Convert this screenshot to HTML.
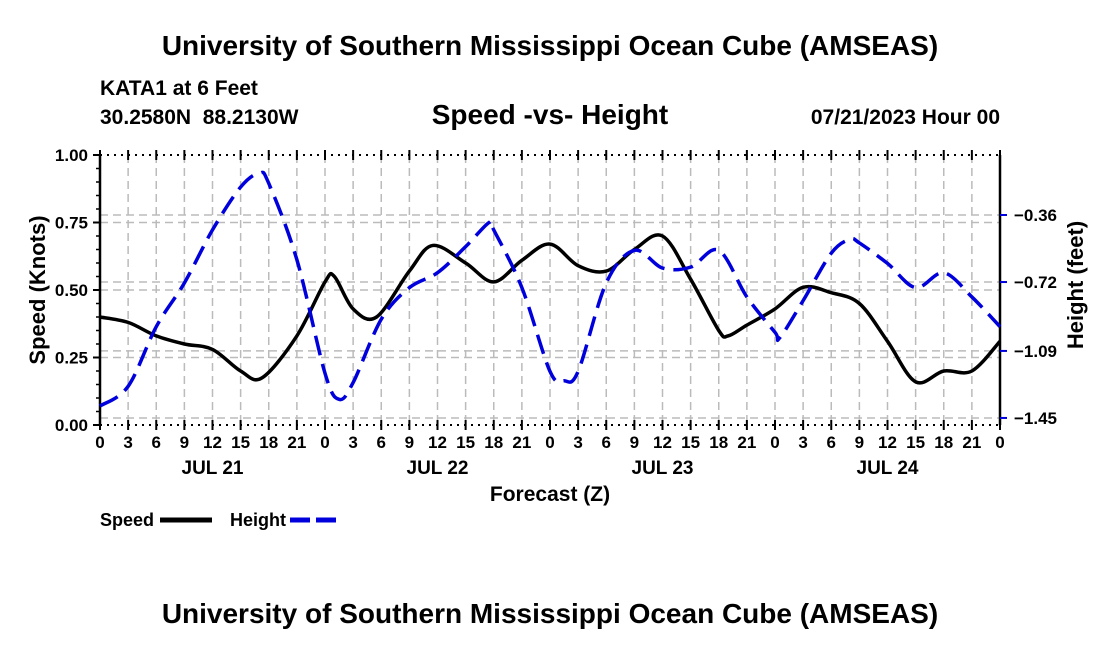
<!DOCTYPE html>
<html><head><meta charset="utf-8"><style>
body{margin:0;background:#fff;width:1100px;height:650px;overflow:hidden}
text{font-family:"Liberation Sans",sans-serif;font-weight:bold;fill:#000}
</style></head><body>
<svg id="chart" width="1100" height="650" xmlns="http://www.w3.org/2000/svg">
<text x="550" y="55" font-size="28" text-anchor="middle">University of Southern Mississippi Ocean Cube (AMSEAS)</text>
<text x="100" y="95" font-size="21">KATA1 at 6 Feet</text>
<text x="100" y="124" font-size="21">30.2580N&#160;&#160;88.2130W</text>
<text x="550" y="124" font-size="28" text-anchor="middle">Speed -vs- Height</text>
<text x="1000" y="124" font-size="21" text-anchor="end">07/21/2023 Hour 00</text>
<g id="grid"></g>
<g id="axes"></g>
<g id="series"></g>
<text x="550" y="501" font-size="21" text-anchor="middle">Forecast (Z)</text>
<text transform="translate(45,290) rotate(-90)" font-size="22" text-anchor="middle">Speed (Knots)</text>
<text transform="translate(1083,285) rotate(-90)" font-size="22" text-anchor="middle">Height (feet)</text>
<g>
<text x="100" y="526" font-size="18">Speed</text>
<line x1="160" y1="520" x2="212" y2="520" stroke="#000" stroke-width="5"/>
<text x="230" y="526" font-size="18">Height</text>
<line x1="290" y1="520" x2="342" y2="520" stroke="#0000dd" stroke-width="5" stroke-dasharray="20,6"/>
</g>
<text x="550" y="623" font-size="28" text-anchor="middle">University of Southern Mississippi Ocean Cube (AMSEAS)</text>
</svg>
<script>
const speedHours=[0,3,6,9,12,15,17.3,21,24,25,27,29.5,33,35.5,39,42,45,48,51,54,57,60,63,66,67,69,72,75,78,81,84,87,90,93,96];
const speedValues=[0.40,0.38,0.33,0.30,0.28,0.20,0.175,0.33,0.53,0.55,0.43,0.40,0.57,0.665,0.60,0.53,0.61,0.67,0.59,0.57,0.65,0.70,0.54,0.35,0.33,0.37,0.43,0.51,0.49,0.45,0.31,0.16,0.20,0.20,0.31];
const heightHours=[0,3,6,9,12,15,17,18,21,24,25.5,27,30,33,36,39,41.5,42,45,48,49.5,51,54,57,60,63,66,69,72,72.5,75,78,80,81,84,87,90,93,96];
const heightValues=[-1.386,-1.28,-0.96,-0.725,-0.44,-0.21,-0.135,-0.19,-0.60,-1.21,-1.35,-1.26,-0.92,-0.75,-0.67,-0.53,-0.40,-0.44,-0.75,-1.20,-1.25,-1.20,-0.725,-0.55,-0.645,-0.64,-0.55,-0.80,-0.99,-1.02,-0.82,-0.565,-0.49,-0.51,-0.62,-0.75,-0.67,-0.80,-0.96];
const speedTicks=[0,0.25,0.5,0.75,1.0];
const speedTickLabels=["0.00","0.25","0.50","0.75","1.00"];
const heightTicks=[-0.36,-0.72,-1.09,-1.45];
const heightTickLabels=["\u22120.36","\u22120.72","\u22121.09","\u22121.45"];
const dayLabels=["JUL 21","JUL 22","JUL 23","JUL 24"];
const hourLabels=["0","3","6","9","12","15","18","21"];

const X0=100,X1=1000,Y0=425,Y1=155;
const xs=h=>X0+(X1-X0)*h/96;
const ys=v=>Y0-(Y0-Y1)*v;
const yh=v=>215+(-0.36-v)*186.2;
const NS="http://www.w3.org/2000/svg";
function mk(parent,tag,attrs){const e=document.createElementNS(NS,tag);for(const k in attrs)e.setAttribute(k,attrs[k]);parent.appendChild(e);return e;}
const grid=document.getElementById('grid'),axes=document.getElementById('axes'),series=document.getElementById('series');
const gs={stroke:"#bbb","stroke-width":1.5,"stroke-dasharray":"8,5"};
for(let h=3;h<96;h+=3){const l=mk(grid,'line',Object.assign({x1:xs(h),x2:xs(h),y1:Y1,y2:Y0},gs));

}
speedTicks.slice(1,4).forEach(v=>{const l=mk(grid,'line',Object.assign({x1:X0,x2:X1,y1:ys(v),y2:ys(v)},gs));

});
heightTicks.forEach(v=>{const l=mk(grid,'line',Object.assign({x1:X0,x2:X1,y1:yh(v),y2:yh(v)},gs));

});
[[X0,Y1,X0,Y0],[X1,Y1,X1,Y0]].forEach(c=>{const l=mk(axes,'line',{x1:c[0],y1:c[1],x2:c[2],y2:c[3],stroke:"#000","stroke-width":2.5});

});
[Y1,Y0].forEach(y=>{const l=mk(axes,'line',{x1:X0,y1:y,x2:X1,y2:y,stroke:"#000","stroke-width":2,"stroke-dasharray":"2,5"});

});
for(let h=0;h<=96;h+=3){
 [Y1,Y0].forEach(y=>{mk(axes,'line',{x1:xs(h),x2:xs(h),y1:y-5,y2:y+5,stroke:"#000","stroke-width":2});});
 const t=mk(axes,'text',{x:xs(h),y:448,"font-size":17,"text-anchor":"middle"});t.textContent=hourLabels[(h/3)%8];
 
 
}
dayLabels.forEach((d,i)=>{const t=mk(axes,'text',{x:xs(12+24*i),y:474,"font-size":19,"text-anchor":"middle"});t.textContent=d;

});
speedTicks.forEach((v,i)=>{mk(axes,'line',{x1:X0-7,x2:X0,y1:ys(v),y2:ys(v),stroke:"#000","stroke-width":2});
const t=mk(axes,'text',{x:X0-12,y:ys(v)+6,"font-size":17,"text-anchor":"end"});t.textContent=speedTickLabels[i];

});
for(let v=0.05;v<1;v+=0.05){mk(axes,'line',{x1:X0-4,x2:X0,y1:ys(v),y2:ys(v),stroke:"#000","stroke-width":1.5});}
heightTicks.forEach((v,i)=>{mk(axes,'line',{x1:X1,x2:X1+7,y1:yh(v),y2:yh(v),stroke:"#0000dd","stroke-width":2});
const t=mk(axes,'text',{x:X1+14,y:yh(v)+6,"font-size":17});t.textContent=heightTickLabels[i];

});
function path(hs,vs,yf){const p=hs.map((h,i)=>[xs(h),yf(vs[i])]);let d="M"+p[0][0]+","+p[0][1];
for(let i=0;i<p.length-1;i++){const a=p[Math.max(0,i-1)],b=p[i],c=p[i+1],e=p[Math.min(p.length-1,i+2)];
d+=` C${b[0]+(c[0]-a[0])/6},${b[1]+(c[1]-a[1])/6} ${c[0]-(e[0]-b[0])/6},${c[1]-(e[1]-b[1])/6} ${c[0]},${c[1]}`;}return d;}
const sp=mk(series,'path',{d:path(speedHours,speedValues,ys),fill:"none",stroke:"#000","stroke-width":3.5});


const hp=mk(series,'path',{d:path(heightHours,heightValues,yh),fill:"none",stroke:"#0000dd","stroke-width":3.5,"stroke-dasharray":"20,9"});


</script>
</body></html>
